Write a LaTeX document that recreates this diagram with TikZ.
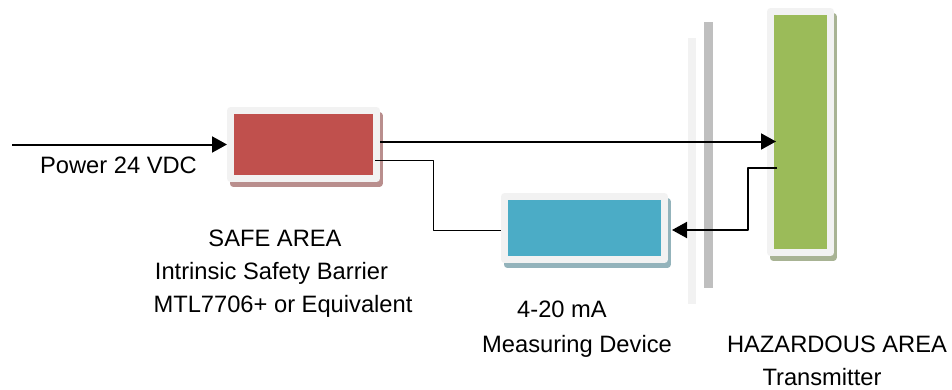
\documentclass[tikz,border=0pt]{standalone}
\usepackage{fontspec}
\setmainfont{Liberation Sans}
\usetikzlibrary{arrows.meta}
\definecolor{barrier}{HTML}{C0504D}
\definecolor{barriershadow}{HTML}{B98E8D}
\definecolor{meter}{HTML}{4BACC6}
\definecolor{metershadow}{HTML}{93B3BB}
\definecolor{sensor}{HTML}{9BBB59}
\definecolor{sensorshadow}{HTML}{A8B394}
\definecolor{framegray}{HTML}{F2F2F2}
\definecolor{wallgray}{HTML}{BFBFBF}
\begin{document}
\begin{tikzpicture}[x=0.5pt, y=-0.5pt, line join=round, >={Triangle[length=7.5pt,width=8pt]}]
		\tikzset{label style/.style={font=\fontsize{11.85}{14}\selectfont, anchor=base, inner sep=0pt},
			unit/.style 2 args={fill=#1, draw=framegray, line width=3.5pt, inner sep=0pt,
				preaction={fill=#2, draw=#2, transform canvas={shift={(1.25pt,-2.5pt)}}}},
			wire/.style={line width=1pt}}
		\useasboundingbox (0,0) rectangle (952,390);
		% barrier walls
		\fill[framegray] (688,38) rectangle (696,304);
		\fill[wallgray] (704,22) rectangle (713,288);
		% units
		\node[unit={barrier}{barriershadow}, minimum width=73pt, minimum height=34pt] (sab) at (303.5,144.5) {};
		\node[unit={meter}{metershadow}, minimum width=80pt, minimum height=31.5pt] (meas) at (584.5,228) {};
		\node[unit={sensor}{sensorshadow}, minimum width=30pt, minimum height=120.5pt] (tx) at (800.5,132) {};
		% wiring
		\coordinate (src) at (12,144.5);
		\draw[wire,->] (src) -- (sab);
		\draw[wire,->,shorten >=-4.5pt] ([yshift=1.5pt]sab.east) -- ([yshift=1.5pt]sab.east -| tx.west);
		\draw[line width=.5pt] ([xshift=-2.5pt,yshift=-7.75pt]sab.east) -- ++(58,0) |- ([yshift=-1pt]meas.west);
		\draw[wire,->,shorten >=2pt] ([xshift=5pt,yshift=-18pt]tx.west) -- ++(-29,0) |- ([yshift=-1pt]meas.east);
		% labels
		\node[label style] (pwr) at (118.5,173) {Power 24 VDC};
		\node[label style] (safe) at (275,246) {SAFE AREA};
		\node[label style] (isb) at (271.5,279) {Intrinsic Safety Barrier};
		\node[label style] (mtl) at (283,312) {MTL7706+ or Equivalent};
		\node[label style] (ma) at (562,317) {4-20 mA};
		\node[label style] (dev) at (577,352) {Measuring Device};
		\node[label style] (haz) at (837,352) {HAZARDOUS AREA};
		\node[label style] (trm) at (822,385) {Transmitter};
\end{tikzpicture}
\end{document}
